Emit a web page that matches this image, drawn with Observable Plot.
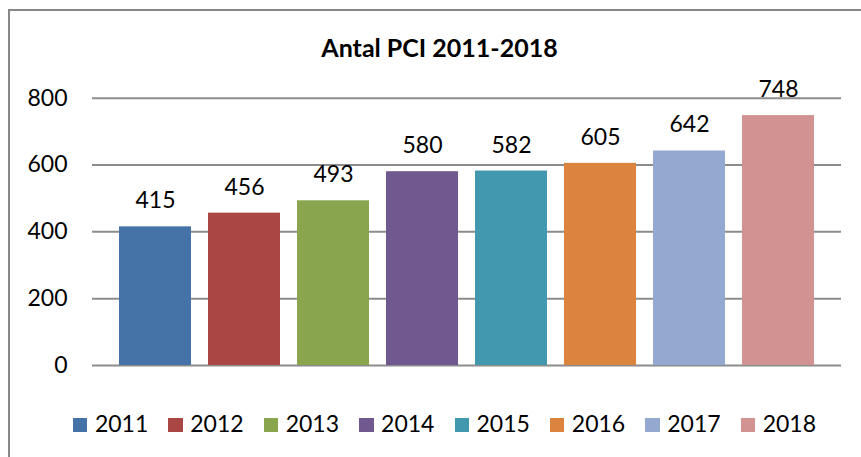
<!DOCTYPE html>
<html><head><meta charset="utf-8">
<script src="https://cdn.jsdelivr.net/npm/d3@7"></script>
<script src="https://cdn.jsdelivr.net/npm/@observablehq/plot@0.6"></script>
<style>
body{margin:0;background:#fff;}
#wrap{position:relative;width:861px;height:457px;overflow:hidden;font-family:Lato,sans-serif;color:#000;}
#frame{position:absolute;left:8px;top:9px;width:880px;height:480px;border:2px solid #878787;box-sizing:border-box;}
#chart{position:absolute;left:0;top:0;}
#title{position:absolute;left:0;width:879px;top:32px;text-align:center;font-weight:bold;font-size:25px;line-height:normal;}
#legend{position:absolute;left:73px;top:409px;display:flex;font-size:23px;line-height:normal;}
#legend .item{width:95.4px;white-space:nowrap;}
#legend .sw{display:inline-block;width:14.4px;height:14.4px;margin-right:7.5px;vertical-align:baseline;}
</style></head>
<body>
<div id="wrap">
  <div id="frame"></div>
  <div id="chart"></div>
  <div id="title">Antal PCI 2011-2018</div>
  <div id="legend"></div>
</div>
<script>
const years = ["2011","2012","2013","2014","2015","2016","2017","2018"];
const values = [415, 456, 493, 580, 582, 605, 642, 748];
const colors = ["#4572A7","#AA4643","#89A54E","#71588F","#4198AF","#DB843D","#93A9CF","#D19392"];
const yTicks = [0, 200, 400, 600, 800];

const data = years.map((y, i) => ({year: y, value: values[i]}));

const plot = Plot.plot({
  width: 861,
  height: 457,
  marginLeft: 92,
  marginRight: 20,
  marginTop: 97.7,
  marginBottom: 92,
  style: {fontFamily: "Lato, sans-serif", fontSize: "23px", color: "#000", background: "transparent", overflow: "visible"},
  x: {domain: years, range: [109.6, 824], paddingInner: 0.194, paddingOuter: 0.097, axis: null},
  y: {domain: [0, 800]},
  color: {domain: years, range: colors},
  marks: [
    Plot.gridY(yTicks, {stroke: "#8c8c8c", strokeOpacity: 1, strokeWidth: 2}),
    Plot.axisY(yTicks, {tickSize: 0, tickPadding: 25, label: null, fontSize: 23}),
    Plot.barY(data, {x: "year", y: "value", fill: "year"}),
    Plot.text(data, {x: "year", y: "value", text: d => String(d.value), lineAnchor: "bottom", dy: -18.5, fontSize: 23, fill: "#000"})
  ]
});
document.getElementById("chart").appendChild(plot);

const legend = document.getElementById("legend");
years.forEach((y, i) => {
  const it = document.createElement("div");
  it.className = "item";
  const sw = document.createElement("span");
  sw.className = "sw";
  sw.style.background = colors[i];
  it.appendChild(sw);
  it.appendChild(document.createTextNode(y));
  legend.appendChild(it);
});
</script>
</body></html>
